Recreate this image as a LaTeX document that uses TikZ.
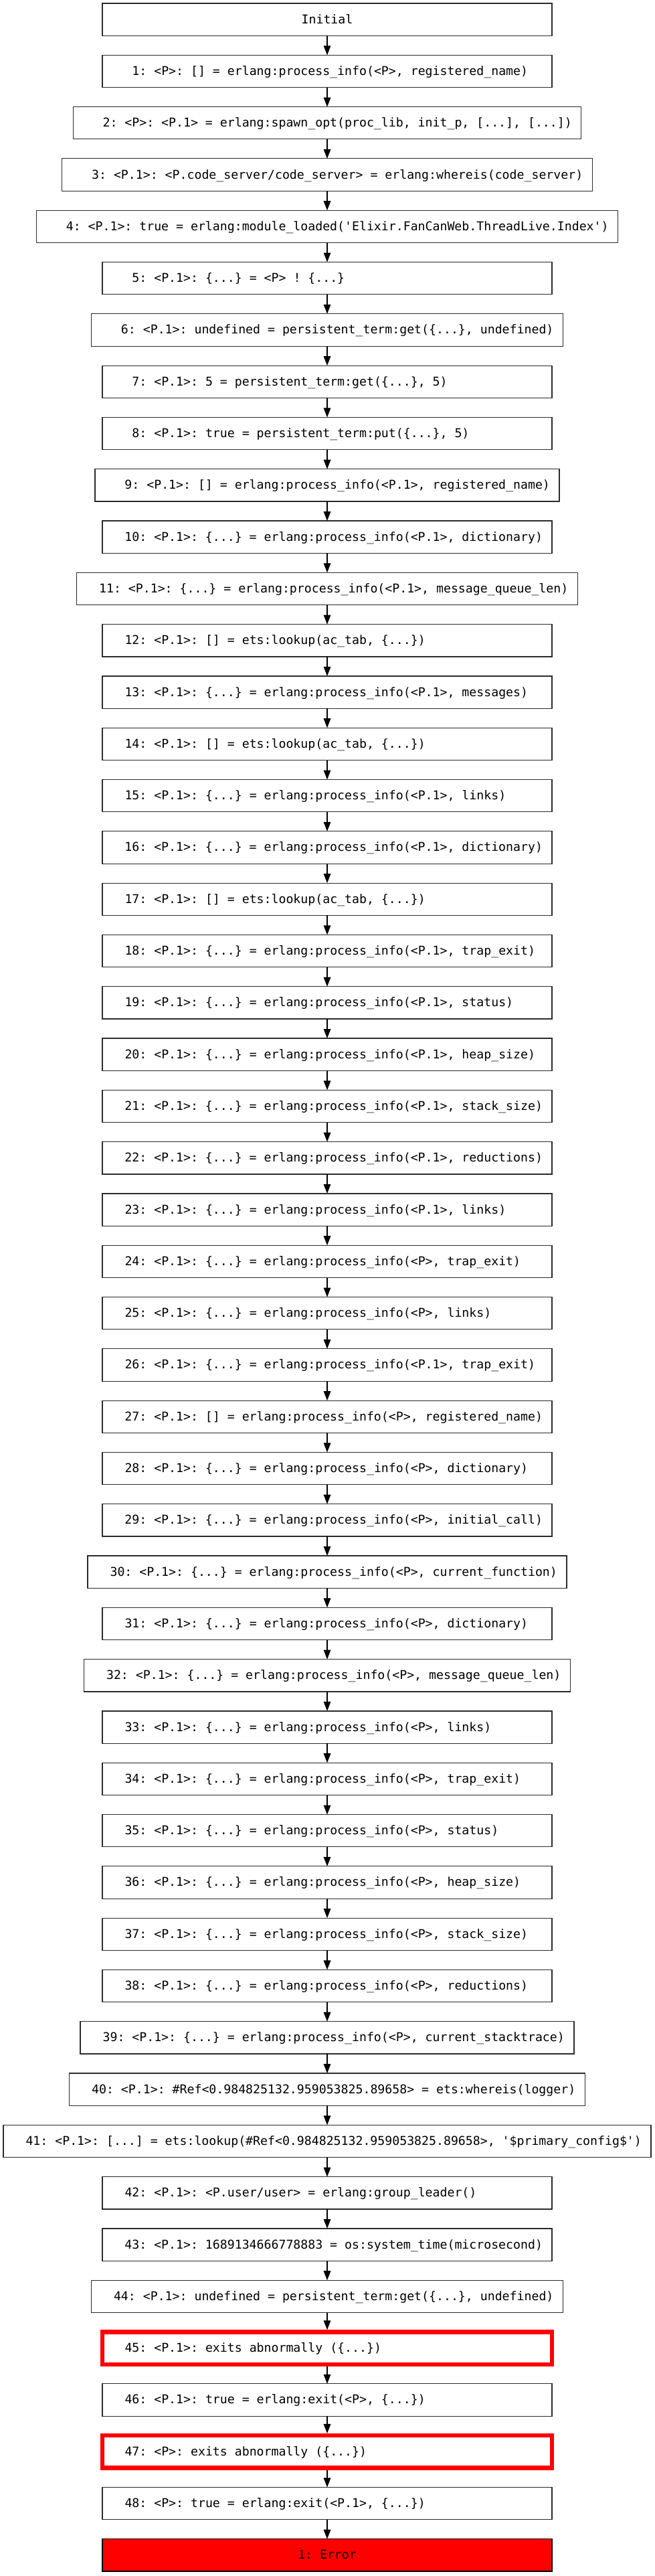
\documentclass[tikz,border=0pt]{standalone}
\usepackage{fontspec}
\setmonofont{DejaVu Sans Mono}
\usepackage{xcolor}
\definecolor{cLine}{HTML}{2B2B2B}
\definecolor{cFail}{HTML}{FF0000}
\usepackage{tikz}
\usetikzlibrary{positioning,arrows.meta}
% text of a step: left pad, at least the minimum width, right pad
\newsavebox\stepbuf
\newlength\stepminwd
\setlength\stepminwd{312.25pt}
\newcommand\stepfont{\fontsize{9.1pt}{11pt}\selectfont\ttfamily}
\newcommand\steptext[1]{\hspace*{16.75pt}\sbox\stepbuf{#1}%
  \ifdim\wd\stepbuf<\stepminwd\hbox to\stepminwd{\usebox\stepbuf\hss}\else\usebox\stepbuf\fi
  \hspace*{7pt}}
\newcommand\pd{\hphantom{0}}
\tikzset{
  stepbox/.style={draw=cLine,line width=0.6pt,rectangle,fill=white,
    minimum width=336pt,minimum height=24.15pt,inner xsep=0pt,inner ysep=0pt,
    outer sep=0pt,text height=7pt,text depth=1pt,font=\stepfont},
  step-fail/.style={draw=cFail,line width=3.25pt},
  step-error/.style={draw=black,fill=cFail},
  arrow/.style={-{Triangle[length=7pt,width=5.3pt]},line width=0.6pt,draw=black},
}

\begin{document}
\begin{tikzpicture}[node distance=14.5pt]
  \useasboundingbox (0,0) rectangle (489.5pt,-1924pt);
  \node[stepbox] (init) at (244.5pt,-14.575pt) {Initial};
  \node[stepbox,below=of init] (s1) {\steptext{\pd1: <P>: [] = erlang:process\_info(<P>, registered\_name)}};
  \node[stepbox,below=of s1] (s2) {\steptext{\pd2: <P>: <P.1> = erlang:spawn\_opt(proc\_lib, init\_p, [...], [...])}};
  \node[stepbox,below=of s2] (s3) {\steptext{\pd3: <P.1>: <P.code\_server/code\_server> = erlang:whereis(code\_server)}};
  \node[stepbox,below=of s3] (s4) {\steptext{\pd4: <P.1>: true = erlang:module\_loaded('Elixir.FanCanWeb.ThreadLive.Index')}};
  \node[stepbox,below=of s4] (s5) {\steptext{\pd5: <P.1>: \{...\} = <P> ! \{...\}}};
  \node[stepbox,below=of s5] (s6) {\steptext{\pd6: <P.1>: undefined = persistent\_term:get(\{...\}, undefined)}};
  \node[stepbox,below=of s6] (s7) {\steptext{\pd7: <P.1>: 5 = persistent\_term:get(\{...\}, 5)}};
  \node[stepbox,below=of s7] (s8) {\steptext{\pd8: <P.1>: true = persistent\_term:put(\{...\}, 5)}};
  \node[stepbox,below=of s8] (s9) {\steptext{\pd9: <P.1>: [] = erlang:process\_info(<P.1>, registered\_name)}};
  \node[stepbox,below=of s9] (s10) {\steptext{10: <P.1>: \{...\} = erlang:process\_info(<P.1>, dictionary)}};
  \node[stepbox,below=of s10] (s11) {\steptext{11: <P.1>: \{...\} = erlang:process\_info(<P.1>, message\_queue\_len)}};
  \node[stepbox,below=of s11] (s12) {\steptext{12: <P.1>: [] = ets:lookup(ac\_tab, \{...\})}};
  \node[stepbox,below=of s12] (s13) {\steptext{13: <P.1>: \{...\} = erlang:process\_info(<P.1>, messages)}};
  \node[stepbox,below=of s13] (s14) {\steptext{14: <P.1>: [] = ets:lookup(ac\_tab, \{...\})}};
  \node[stepbox,below=of s14] (s15) {\steptext{15: <P.1>: \{...\} = erlang:process\_info(<P.1>, links)}};
  \node[stepbox,below=of s15] (s16) {\steptext{16: <P.1>: \{...\} = erlang:process\_info(<P.1>, dictionary)}};
  \node[stepbox,below=of s16] (s17) {\steptext{17: <P.1>: [] = ets:lookup(ac\_tab, \{...\})}};
  \node[stepbox,below=of s17] (s18) {\steptext{18: <P.1>: \{...\} = erlang:process\_info(<P.1>, trap\_exit)}};
  \node[stepbox,below=of s18] (s19) {\steptext{19: <P.1>: \{...\} = erlang:process\_info(<P.1>, status)}};
  \node[stepbox,below=of s19] (s20) {\steptext{20: <P.1>: \{...\} = erlang:process\_info(<P.1>, heap\_size)}};
  \node[stepbox,below=of s20] (s21) {\steptext{21: <P.1>: \{...\} = erlang:process\_info(<P.1>, stack\_size)}};
  \node[stepbox,below=of s21] (s22) {\steptext{22: <P.1>: \{...\} = erlang:process\_info(<P.1>, reductions)}};
  \node[stepbox,below=of s22] (s23) {\steptext{23: <P.1>: \{...\} = erlang:process\_info(<P.1>, links)}};
  \node[stepbox,below=of s23] (s24) {\steptext{24: <P.1>: \{...\} = erlang:process\_info(<P>, trap\_exit)}};
  \node[stepbox,below=of s24] (s25) {\steptext{25: <P.1>: \{...\} = erlang:process\_info(<P>, links)}};
  \node[stepbox,below=of s25] (s26) {\steptext{26: <P.1>: \{...\} = erlang:process\_info(<P.1>, trap\_exit)}};
  \node[stepbox,below=of s26] (s27) {\steptext{27: <P.1>: [] = erlang:process\_info(<P>, registered\_name)}};
  \node[stepbox,below=of s27] (s28) {\steptext{28: <P.1>: \{...\} = erlang:process\_info(<P>, dictionary)}};
  \node[stepbox,below=of s28] (s29) {\steptext{29: <P.1>: \{...\} = erlang:process\_info(<P>, initial\_call)}};
  \node[stepbox,below=of s29] (s30) {\steptext{30: <P.1>: \{...\} = erlang:process\_info(<P>, current\_function)}};
  \node[stepbox,below=of s30] (s31) {\steptext{31: <P.1>: \{...\} = erlang:process\_info(<P>, dictionary)}};
  \node[stepbox,below=of s31] (s32) {\steptext{32: <P.1>: \{...\} = erlang:process\_info(<P>, message\_queue\_len)}};
  \node[stepbox,below=of s32] (s33) {\steptext{33: <P.1>: \{...\} = erlang:process\_info(<P>, links)}};
  \node[stepbox,below=of s33] (s34) {\steptext{34: <P.1>: \{...\} = erlang:process\_info(<P>, trap\_exit)}};
  \node[stepbox,below=of s34] (s35) {\steptext{35: <P.1>: \{...\} = erlang:process\_info(<P>, status)}};
  \node[stepbox,below=of s35] (s36) {\steptext{36: <P.1>: \{...\} = erlang:process\_info(<P>, heap\_size)}};
  \node[stepbox,below=of s36] (s37) {\steptext{37: <P.1>: \{...\} = erlang:process\_info(<P>, stack\_size)}};
  \node[stepbox,below=of s37] (s38) {\steptext{38: <P.1>: \{...\} = erlang:process\_info(<P>, reductions)}};
  \node[stepbox,below=of s38] (s39) {\steptext{39: <P.1>: \{...\} = erlang:process\_info(<P>, current\_stacktrace)}};
  \node[stepbox,below=of s39] (s40) {\steptext{40: <P.1>: \#Ref<0.984825132.959053825.89658> = ets:whereis(logger)}};
  \node[stepbox,below=of s40] (s41) {\steptext{41: <P.1>: [...] = ets:lookup(\#Ref<0.984825132.959053825.89658>, '\$primary\_config\$')}};
  \node[stepbox,below=of s41] (s42) {\steptext{42: <P.1>: <P.user/user> = erlang:group\_leader()}};
  \node[stepbox,below=of s42] (s43) {\steptext{43: <P.1>: 1689134666778883 = os:system\_time(microsecond)}};
  \node[stepbox,below=of s43] (s44) {\steptext{44: <P.1>: undefined = persistent\_term:get(\{...\}, undefined)}};
  \node[stepbox,step-fail,below=of s44] (s45) {\steptext{45: <P.1>: exits abnormally (\{...\})}};
  \node[stepbox,below=of s45] (s46) {\steptext{46: <P.1>: true = erlang:exit(<P>, \{...\})}};
  \node[stepbox,step-fail,below=of s46] (s47) {\steptext{47: <P>: exits abnormally (\{...\})}};
  \node[stepbox,below=of s47] (s48) {\steptext{48: <P>: true = erlang:exit(<P.1>, \{...\})}};
  \node[stepbox,step-error,below=of s48] (err) {1: Error};
  \draw[arrow] (init) -- (s1);
  \draw[arrow] (s1) -- (s2);
  \draw[arrow] (s2) -- (s3);
  \draw[arrow] (s3) -- (s4);
  \draw[arrow] (s4) -- (s5);
  \draw[arrow] (s5) -- (s6);
  \draw[arrow] (s6) -- (s7);
  \draw[arrow] (s7) -- (s8);
  \draw[arrow] (s8) -- (s9);
  \draw[arrow] (s9) -- (s10);
  \draw[arrow] (s10) -- (s11);
  \draw[arrow] (s11) -- (s12);
  \draw[arrow] (s12) -- (s13);
  \draw[arrow] (s13) -- (s14);
  \draw[arrow] (s14) -- (s15);
  \draw[arrow] (s15) -- (s16);
  \draw[arrow] (s16) -- (s17);
  \draw[arrow] (s17) -- (s18);
  \draw[arrow] (s18) -- (s19);
  \draw[arrow] (s19) -- (s20);
  \draw[arrow] (s20) -- (s21);
  \draw[arrow] (s21) -- (s22);
  \draw[arrow] (s22) -- (s23);
  \draw[arrow] (s23) -- (s24);
  \draw[arrow] (s24) -- (s25);
  \draw[arrow] (s25) -- (s26);
  \draw[arrow] (s26) -- (s27);
  \draw[arrow] (s27) -- (s28);
  \draw[arrow] (s28) -- (s29);
  \draw[arrow] (s29) -- (s30);
  \draw[arrow] (s30) -- (s31);
  \draw[arrow] (s31) -- (s32);
  \draw[arrow] (s32) -- (s33);
  \draw[arrow] (s33) -- (s34);
  \draw[arrow] (s34) -- (s35);
  \draw[arrow] (s35) -- (s36);
  \draw[arrow] (s36) -- (s37);
  \draw[arrow] (s37) -- (s38);
  \draw[arrow] (s38) -- (s39);
  \draw[arrow] (s39) -- (s40);
  \draw[arrow] (s40) -- (s41);
  \draw[arrow] (s41) -- (s42);
  \draw[arrow] (s42) -- (s43);
  \draw[arrow] (s43) -- (s44);
  \draw[arrow,shorten >=1.6pt] (s44) -- (s45);
  \draw[arrow,shorten <=1.6pt] (s45) -- (s46);
  \draw[arrow,shorten >=1.6pt] (s46) -- (s47);
  \draw[arrow,shorten <=1.6pt] (s47) -- (s48);
  \draw[arrow] (s48) -- (err);
\end{tikzpicture}
\end{document}
